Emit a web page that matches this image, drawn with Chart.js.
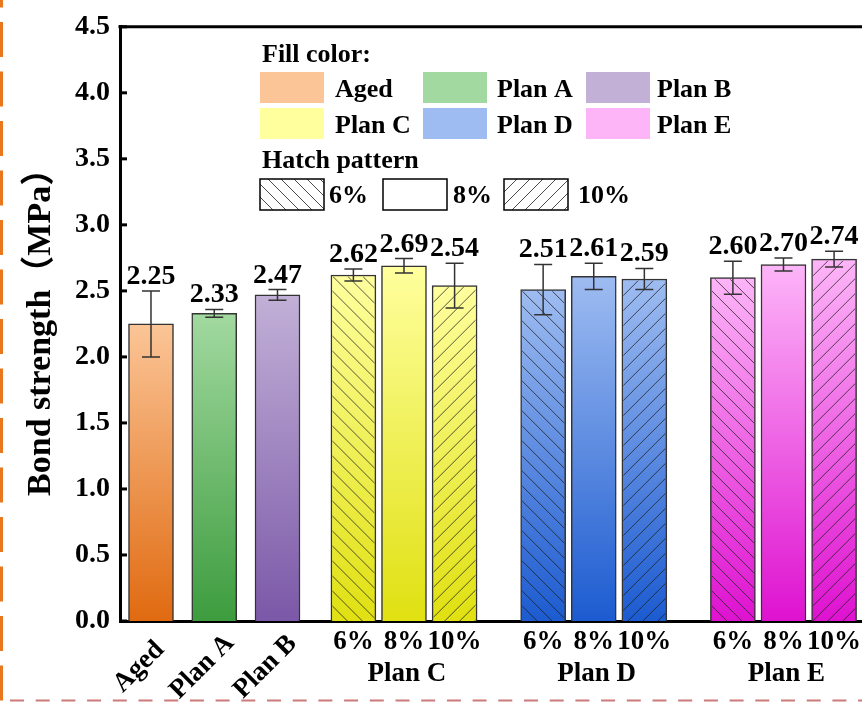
<!DOCTYPE html>
<html>
<head>
<meta charset="utf-8">
<script src="https://cdn.jsdelivr.net/npm/chart.js@4.4.1/dist/chart.umd.min.js"></script>
<style>
html, body { margin: 0; padding: 0; background: #fff; overflow: hidden; width: 862px; height: 702px; }
canvas { display: block; }
</style>
</head>
<body>
<canvas id="bondChart" width="900" height="702"></canvas>
<script>
// bar labels, the plan each bar belongs to, and measured values
const barLabels = ['Aged', 'Plan A', 'Plan B', '6%', '8%', '10%', '6%', '8%', '10%', '6%', '8%', '10%'];
const barPlans = ['Aged', 'Plan A', 'Plan B', 'Plan C', 'Plan C', 'Plan C', 'Plan D', 'Plan D', 'Plan D', 'Plan E', 'Plan E', 'Plan E'];
const strength = [2.25, 2.33, 2.47, 2.62, 2.69, 2.54, 2.51, 2.61, 2.59, 2.60, 2.70, 2.74];
const strengthErr = [0.25, 0.03, 0.04, 0.045, 0.055, 0.17, 0.19, 0.10, 0.08, 0.125, 0.05, 0.06];
const groupNames = ['Plan C', 'Plan D', 'Plan E'];
const planNames = ['Aged', 'Plan A', 'Plan B', 'Plan C', 'Plan D', 'Plan E'];
const hatchNames = ['6%', '8%', '10%'];
const yTicks = [0, 0.5, 1.0, 1.5, 2.0, 2.5, 3.0, 3.5, 4.0, 4.5];

// layout: slot of each bar along the x axis (groups spaced apart)
const slotPos = [0, 5, 10, 16, 20, 24, 31, 35, 39, 46, 50, 54];

// light (top) and dark (bottom) shade per plan
const planLight = {
    'Aged': '#fbc597', 'Plan A': '#a2d9a0', 'Plan B': '#c2b0d7',
    'Plan C': '#ffff9e', 'Plan D': '#9ebcf1', 'Plan E': '#fdb5f8'
};
const planDark = {
    'Aged': '#e06a10', 'Plan A': '#3d9c3e', 'Plan B': '#7b58a8',
    'Plan C': '#e0e012', 'Plan D': '#1c5bd0', 'Plan E': '#de12d0'
};

const FONT = '"Liberation Serif", "Times New Roman", "Noto Sans CJK SC", serif';
const hatchOf = label => label === '6%' ? 'back' : (label === '10%' ? 'fwd' : null);

function drawHatch(ctx, x0, y0, w, h, kind, step) {
    if (!kind) return;
    ctx.save();
    ctx.beginPath();
    ctx.rect(x0, y0, w, h);
    ctx.clip();
    ctx.beginPath();
    for (let k = -h - step; k < w + h + step; k += step) {
        if (kind === 'back') {
            ctx.moveTo(x0 + k, y0);
            ctx.lineTo(x0 + k + h, y0 + h);
        } else {
            ctx.moveTo(x0 + k, y0 + h);
            ctx.lineTo(x0 + k + h, y0);
        }
    }
    ctx.stroke();
    ctx.restore();
}

const decor = {
    id: 'decor',
    afterDatasetsDraw(chart) {
        const ctx = chart.ctx;
        const y = chart.scales.y;
        const meta = chart.getDatasetMeta(0);
        meta.data.forEach((bar, i) => {
            const p = bar.getProps(['x', 'y', 'base', 'width'], true);
            // hatch
            ctx.strokeStyle = 'rgba(30,30,30,0.75)';
            ctx.lineWidth = 1;
            drawHatch(ctx, p.x - p.width / 2 + 1.5, p.y + 1.5, p.width - 3, p.base - p.y - 1.5, hatchOf(barLabels[i]), 15);
            // error bar
            const top = y.getPixelForValue(strength[i] + strengthErr[i]);
            const bot = y.getPixelForValue(strength[i] - strengthErr[i]);
            ctx.save();
            ctx.strokeStyle = '#333';
            ctx.lineWidth = 1.5;
            ctx.beginPath();
            ctx.moveTo(p.x, top); ctx.lineTo(p.x, bot);
            ctx.moveTo(p.x - 9, top); ctx.lineTo(p.x + 9, top);
            ctx.moveTo(p.x - 9, bot); ctx.lineTo(p.x + 9, bot);
            ctx.stroke();
            // value label
            ctx.fillStyle = '#000';
            ctx.font = 'bold 28px ' + FONT;
            ctx.textAlign = 'center';
            ctx.textBaseline = 'alphabetic';
            ctx.fillText(strength[i].toFixed(2), p.x, top - 7);
            ctx.restore();
        });
    },
    afterDraw(chart) {
        const ctx = chart.ctx;
        const area = chart.chartArea;
        const y = chart.scales.y;
        const x = chart.scales.x;
        ctx.save();
        // top frame line
        ctx.strokeStyle = '#000';
        ctx.lineWidth = 3;
        ctx.beginPath();
        ctx.moveTo(area.left - 1.5, area.top);
        ctx.lineTo(area.right, area.top);
        ctx.stroke();
        // inward ticks
        yTicks.forEach(v => {
            const py = y.getPixelForValue(v);
            ctx.beginPath();
            ctx.moveTo(area.left, py);
            ctx.lineTo(area.left + 7, py);
            ctx.stroke();
        });
        // x labels
        ctx.fillStyle = '#000';
        ctx.font = 'bold 27px ' + FONT;
        ctx.textAlign = 'center';
        ctx.textBaseline = 'middle';
        barLabels.forEach((lab, i) => {
            const px = x.getPixelForValue(slotPos[i]);
            if (barPlans[i] === lab) {
                ctx.save();
                ctx.translate(px - 12, 667);
                ctx.rotate(-Math.PI / 4);
                ctx.fillText(lab, 0, 0);
                ctx.restore();
            } else {
                ctx.fillText(lab, px, 642);
            }
        });
        groupNames.forEach(g => {
            const idx = barPlans.map((p, i) => p === g ? i : -1).filter(i => i >= 0);
            const cx = (x.getPixelForValue(slotPos[idx[0]]) + x.getPixelForValue(slotPos[idx[idx.length - 1]])) / 2;
            ctx.fillText(g, cx + 3, 674);
        });

        // legend
        ctx.font = 'bold 26px ' + FONT;
        ctx.textAlign = 'left';
        ctx.textBaseline = 'alphabetic';
        ctx.fillText('Fill color:', 262, 62);
        const colX = [260, 423, 586];
        const textX = [335, 497, 657];
        const rowY = [72, 108];
        planNames.forEach((name, i) => {
            const c = i % 3, r = Math.floor(i / 3);
            ctx.fillStyle = planLight[name];
            ctx.fillRect(colX[c], rowY[r], 64, 31);
            ctx.fillStyle = '#000';
            ctx.fillText(name, textX[c], rowY[r] + 25);
        });
        ctx.fillText('Hatch pattern', 262, 168);
        const boxX = [260, 383, 504];
        const hatchTextX = [329, 453, 578];
        hatchNames.forEach((name, i) => {
            ctx.fillStyle = '#fff';
            ctx.fillRect(boxX[i], 179, 64, 31);
            ctx.strokeStyle = 'rgba(30,30,30,0.8)';
            ctx.lineWidth = 1;
            drawHatch(ctx, boxX[i], 179, 64, 31, hatchOf(name), 13);
            ctx.strokeStyle = '#000';
            ctx.lineWidth = 1.5;
            ctx.strokeRect(boxX[i], 179, 64, 31);
            ctx.fillStyle = '#000';
            ctx.fillText(name, hatchTextX[i], 203);
        });

        // dashed page frame
        ctx.setLineDash([35, 14.5]);
        ctx.strokeStyle = '#e8771e';
        ctx.lineWidth = 3;
        ctx.beginPath();
        ctx.moveTo(1.5, -27.5);
        ctx.lineTo(1.5, 702);
        ctx.stroke();
        ctx.setLineDash([14, 11.7]);
        ctx.strokeStyle = '#cc7a7a';
        ctx.lineWidth = 2;
        ctx.beginPath();
        ctx.moveTo(10, 700.5);
        ctx.lineTo(862, 700.5);
        ctx.stroke();
        ctx.restore();
    }
};

const ctx = document.getElementById('bondChart').getContext('2d');
const chart = new Chart(ctx, {
    type: 'bar',
    data: {
        datasets: [{
            data: strength.map((v, i) => ({ x: slotPos[i], y: v })),
            barThickness: 45,
            borderWidth: 1.5,
            borderColor: '#333',
            backgroundColor: function(c) {
                const plan = barPlans[c.dataIndex];
                const area = c.chart.chartArea;
                if (!area || c.type !== 'data') return planLight[plan];
                const ys = c.chart.scales.y;
                const g = c.chart.ctx.createLinearGradient(0, ys.getPixelForValue(c.raw.y), 0, ys.getPixelForValue(0));
                g.addColorStop(0, planLight[plan]);
                g.addColorStop(1, planDark[plan]);
                return g;
            }
        }]
    },
    options: {
        responsive: false,
        animation: false,
        layout: { padding: { left: 0, top: 22, right: 0, bottom: 81 } },
        plugins: {
            legend: { display: false },
            tooltip: { enabled: false }
        },
        scales: {
            x: {
                type: 'linear',
                offset: false,
                min: -2.45,
                max: 59.21,
                ticks: { display: false },
                grid: { display: false, drawTicks: false },
                border: { display: true, width: 3, color: '#000' },
                afterFit: s => { s.height = 0; }
            },
            y: {
                min: 0,
                max: 4.5,
                afterBuildTicks: s => { s.ticks = yTicks.map(v => ({ value: v })); },
                ticks: {
                    color: '#000',
                    padding: 10,
                    font: { family: FONT, size: 28, weight: 'bold' },
                    callback: v => Number(v).toFixed(1)
                },
                grid: { display: false, drawTicks: false },
                border: { display: true, width: 3, color: '#000' },
                title: {
                    display: true,
                    text: 'Bond strength（MPa）',
                    color: '#000',
                    padding: { top: 21, bottom: 0 },
                    font: { family: FONT, size: 34, weight: 'bold' }
                },
                afterFit: s => { s.width = 120; }
            }
        }
    },
    plugins: [decor]
});
</script>
</body>
</html>
